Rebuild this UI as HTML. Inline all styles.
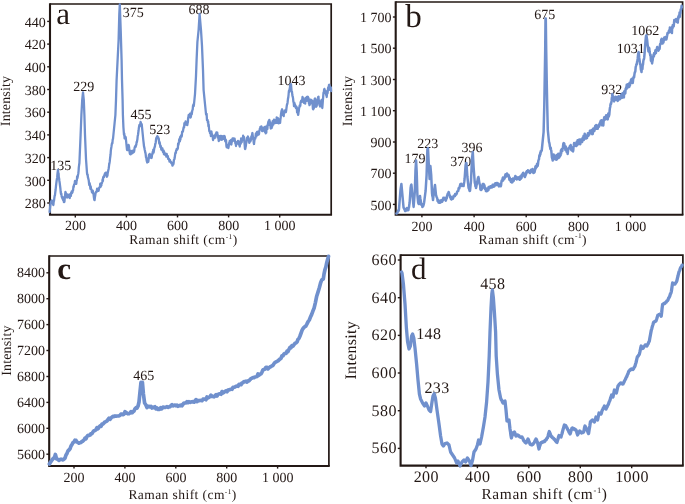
<!DOCTYPE html>
<html><head><meta charset="utf-8"><title>Raman spectra</title>
<style>
html,body{margin:0;padding:0;background:#fff;}
svg{display:block;font-family:"Liberation Serif",serif;fill:#231815;text-rendering:geometricPrecision;will-change:transform;}
</style></head><body>
<svg width="685" height="504" viewBox="0 0 685 504">
<rect width="685" height="504" fill="#fff"/>
<defs>
<clipPath id="ca"><rect x="48" y="2" width="285" height="214"/></clipPath>
<clipPath id="cb"><rect x="394" y="0" width="291" height="216"/></clipPath>
<clipPath id="cc"><rect x="47" y="253" width="284" height="215"/></clipPath>
<clipPath id="cd"><rect x="399" y="253" width="286" height="215"/></clipPath>
</defs>
<path d="M50,4 H331.2 V214.8" fill="none" stroke="#231815" stroke-width="1.7"/>
<path d="M50,3.15 V214.8 H332.05" fill="none" stroke="#231815" stroke-width="2.1" stroke-linejoin="miter"/>
<line x1="75.3" y1="214.8" x2="75.3" y2="217.4" stroke="#231815" stroke-width="1.4"/>
<text x="75.4" y="230.3" font-size="14" text-anchor="middle" letter-spacing="0">200</text>
<line x1="126.4" y1="214.8" x2="126.4" y2="217.4" stroke="#231815" stroke-width="1.4"/>
<text x="126.5" y="230.3" font-size="14" text-anchor="middle" letter-spacing="0">400</text>
<line x1="177.5" y1="214.8" x2="177.5" y2="217.4" stroke="#231815" stroke-width="1.4"/>
<text x="177.6" y="230.3" font-size="14" text-anchor="middle" letter-spacing="0">600</text>
<line x1="228.6" y1="214.8" x2="228.6" y2="217.4" stroke="#231815" stroke-width="1.4"/>
<text x="228.7" y="230.3" font-size="14" text-anchor="middle" letter-spacing="0">800</text>
<line x1="279.7" y1="214.8" x2="279.7" y2="217.4" stroke="#231815" stroke-width="1.4"/>
<text x="279.8" y="230.3" font-size="14" text-anchor="middle" letter-spacing="0">1 000</text>
<line x1="47.2" y1="203.0" x2="50" y2="203.0" stroke="#231815" stroke-width="1.4"/>
<text x="45.8" y="208.2" font-size="14" text-anchor="end" letter-spacing="0">280</text>
<line x1="47.2" y1="180.3" x2="50" y2="180.3" stroke="#231815" stroke-width="1.4"/>
<text x="45.8" y="185.5" font-size="14" text-anchor="end" letter-spacing="0">300</text>
<line x1="47.2" y1="157.6" x2="50" y2="157.6" stroke="#231815" stroke-width="1.4"/>
<text x="45.8" y="162.8" font-size="14" text-anchor="end" letter-spacing="0">320</text>
<line x1="47.2" y1="134.9" x2="50" y2="134.9" stroke="#231815" stroke-width="1.4"/>
<text x="45.8" y="140.1" font-size="14" text-anchor="end" letter-spacing="0">340</text>
<line x1="47.2" y1="112.2" x2="50" y2="112.2" stroke="#231815" stroke-width="1.4"/>
<text x="45.8" y="117.4" font-size="14" text-anchor="end" letter-spacing="0">360</text>
<line x1="47.2" y1="89.5" x2="50" y2="89.5" stroke="#231815" stroke-width="1.4"/>
<text x="45.8" y="94.7" font-size="14" text-anchor="end" letter-spacing="0">380</text>
<line x1="47.2" y1="66.8" x2="50" y2="66.8" stroke="#231815" stroke-width="1.4"/>
<text x="45.8" y="72.0" font-size="14" text-anchor="end" letter-spacing="0">400</text>
<line x1="47.2" y1="44.1" x2="50" y2="44.1" stroke="#231815" stroke-width="1.4"/>
<text x="45.8" y="49.3" font-size="14" text-anchor="end" letter-spacing="0">420</text>
<line x1="47.2" y1="21.4" x2="50" y2="21.4" stroke="#231815" stroke-width="1.4"/>
<text x="45.8" y="26.6" font-size="14" text-anchor="end" letter-spacing="0">440</text>
<text transform="translate(10.1,101) rotate(-90)" font-size="14" text-anchor="middle" letter-spacing="0.15">Intensity</text>
<text x="183.4" y="244.2" font-size="13.5" text-anchor="middle" letter-spacing="0.43">Raman shift (cm<tspan font-size="7.4" dy="-5.7">-1</tspan><tspan dy="5.7">)</tspan></text>
<text x="56.2" y="23.7" font-size="31" font-weight="normal">a</text>
<text x="60.8" y="170.0" font-size="14" text-anchor="middle" letter-spacing="0">135</text>
<text x="83.7" y="91.4" font-size="14" text-anchor="middle" letter-spacing="0">229</text>
<text x="133.2" y="16.8" font-size="14" text-anchor="middle" letter-spacing="0">375</text>
<text x="141.0" y="118.9" font-size="14" text-anchor="middle" letter-spacing="0">455</text>
<text x="159.8" y="134.2" font-size="14" text-anchor="middle" letter-spacing="0">523</text>
<text x="199.1" y="14.1" font-size="14" text-anchor="middle" letter-spacing="0">688</text>
<text x="291.5" y="84.5" font-size="14" text-anchor="middle" letter-spacing="0">1043</text>
<path d="M395.7,2 H682.6 V214.7" fill="none" stroke="#231815" stroke-width="1.7"/>
<path d="M395.7,1.15 V214.7 H683.45" fill="none" stroke="#231815" stroke-width="2.1" stroke-linejoin="miter"/>
<line x1="421.9" y1="214.7" x2="421.9" y2="217.29999999999998" stroke="#231815" stroke-width="1.4"/>
<text x="422.0" y="230.7" font-size="14" text-anchor="middle" letter-spacing="0">200</text>
<line x1="474.1" y1="214.7" x2="474.1" y2="217.29999999999998" stroke="#231815" stroke-width="1.4"/>
<text x="474.2" y="230.7" font-size="14" text-anchor="middle" letter-spacing="0">400</text>
<line x1="526.2" y1="214.7" x2="526.2" y2="217.29999999999998" stroke="#231815" stroke-width="1.4"/>
<text x="526.3" y="230.7" font-size="14" text-anchor="middle" letter-spacing="0">600</text>
<line x1="578.4" y1="214.7" x2="578.4" y2="217.29999999999998" stroke="#231815" stroke-width="1.4"/>
<text x="578.5" y="230.7" font-size="14" text-anchor="middle" letter-spacing="0">800</text>
<line x1="630.5" y1="214.7" x2="630.5" y2="217.29999999999998" stroke="#231815" stroke-width="1.4"/>
<text x="630.6" y="230.7" font-size="14" text-anchor="middle" letter-spacing="0">1 000</text>
<line x1="392.9" y1="204.4" x2="395.7" y2="204.4" stroke="#231815" stroke-width="1.4"/>
<text x="391.5" y="209.5" font-size="14" text-anchor="end" letter-spacing="0">500</text>
<line x1="392.9" y1="173.2" x2="395.7" y2="173.2" stroke="#231815" stroke-width="1.4"/>
<text x="391.5" y="178.2" font-size="14" text-anchor="end" letter-spacing="0">700</text>
<line x1="392.9" y1="142.0" x2="395.7" y2="142.0" stroke="#231815" stroke-width="1.4"/>
<text x="391.5" y="147.0" font-size="14" text-anchor="end" letter-spacing="0">900</text>
<line x1="392.9" y1="110.7" x2="395.7" y2="110.7" stroke="#231815" stroke-width="1.4"/>
<text x="391.5" y="115.8" font-size="14" text-anchor="end" letter-spacing="0">1 100</text>
<line x1="392.9" y1="79.5" x2="395.7" y2="79.5" stroke="#231815" stroke-width="1.4"/>
<text x="391.5" y="84.5" font-size="14" text-anchor="end" letter-spacing="0">1 300</text>
<line x1="392.9" y1="48.2" x2="395.7" y2="48.2" stroke="#231815" stroke-width="1.4"/>
<text x="391.5" y="53.3" font-size="14" text-anchor="end" letter-spacing="0">1 500</text>
<line x1="392.9" y1="17.0" x2="395.7" y2="17.0" stroke="#231815" stroke-width="1.4"/>
<text x="391.5" y="22.0" font-size="14" text-anchor="end" letter-spacing="0">1 700</text>
<text transform="translate(352.1,101) rotate(-90)" font-size="14" text-anchor="middle" letter-spacing="0.15">Intensity</text>
<text x="532.8" y="244.1" font-size="13.5" text-anchor="middle" letter-spacing="0.43">Raman shift (cm<tspan font-size="7.4" dy="-5.7">-1</tspan><tspan dy="5.7">)</tspan></text>
<text x="405.2" y="27.2" font-size="33" font-weight="normal">b</text>
<text x="427.8" y="148.4" font-size="14" text-anchor="middle" letter-spacing="0">223</text>
<text x="415.0" y="163.4" font-size="14" text-anchor="middle" letter-spacing="0">179</text>
<text x="472.0" y="152.4" font-size="14" text-anchor="middle" letter-spacing="0">396</text>
<text x="460.8" y="166.4" font-size="14" text-anchor="middle" letter-spacing="0">370</text>
<text x="544.7" y="19.0" font-size="14" text-anchor="middle" letter-spacing="0">675</text>
<text x="611.8" y="94.0" font-size="14" text-anchor="middle" letter-spacing="0">932</text>
<text x="630.8" y="53.0" font-size="14" text-anchor="middle" letter-spacing="0">1031</text>
<text x="645.3" y="35.4" font-size="14" text-anchor="middle" letter-spacing="0">1062</text>
<path d="M49.2,256 H328.9 V466" fill="none" stroke="#231815" stroke-width="1.7"/>
<path d="M49.2,255.15 V466 H329.75" fill="none" stroke="#231815" stroke-width="2.1" stroke-linejoin="miter"/>
<line x1="74.0" y1="466" x2="74.0" y2="468.6" stroke="#231815" stroke-width="1.4"/>
<text x="74.1" y="482.1" font-size="14" text-anchor="middle" letter-spacing="0">200</text>
<line x1="124.9" y1="466" x2="124.9" y2="468.6" stroke="#231815" stroke-width="1.4"/>
<text x="125.0" y="482.1" font-size="14" text-anchor="middle" letter-spacing="0">400</text>
<line x1="175.8" y1="466" x2="175.8" y2="468.6" stroke="#231815" stroke-width="1.4"/>
<text x="175.9" y="482.1" font-size="14" text-anchor="middle" letter-spacing="0">600</text>
<line x1="226.7" y1="466" x2="226.7" y2="468.6" stroke="#231815" stroke-width="1.4"/>
<text x="226.8" y="482.1" font-size="14" text-anchor="middle" letter-spacing="0">800</text>
<line x1="277.6" y1="466" x2="277.6" y2="468.6" stroke="#231815" stroke-width="1.4"/>
<text x="277.7" y="482.1" font-size="14" text-anchor="middle" letter-spacing="0">1 000</text>
<line x1="46.400000000000006" y1="454.2" x2="49.2" y2="454.2" stroke="#231815" stroke-width="1.4"/>
<text x="45.0" y="458.6" font-size="14" text-anchor="end" letter-spacing="0">5600</text>
<line x1="46.400000000000006" y1="428.3" x2="49.2" y2="428.3" stroke="#231815" stroke-width="1.4"/>
<text x="45.0" y="432.7" font-size="14" text-anchor="end" letter-spacing="0">6000</text>
<line x1="46.400000000000006" y1="402.4" x2="49.2" y2="402.4" stroke="#231815" stroke-width="1.4"/>
<text x="45.0" y="406.8" font-size="14" text-anchor="end" letter-spacing="0">6400</text>
<line x1="46.400000000000006" y1="376.5" x2="49.2" y2="376.5" stroke="#231815" stroke-width="1.4"/>
<text x="45.0" y="380.9" font-size="14" text-anchor="end" letter-spacing="0">6800</text>
<line x1="46.400000000000006" y1="350.5" x2="49.2" y2="350.5" stroke="#231815" stroke-width="1.4"/>
<text x="45.0" y="355.0" font-size="14" text-anchor="end" letter-spacing="0">7200</text>
<line x1="46.400000000000006" y1="324.6" x2="49.2" y2="324.6" stroke="#231815" stroke-width="1.4"/>
<text x="45.0" y="329.1" font-size="14" text-anchor="end" letter-spacing="0">7600</text>
<line x1="46.400000000000006" y1="298.7" x2="49.2" y2="298.7" stroke="#231815" stroke-width="1.4"/>
<text x="45.0" y="303.1" font-size="14" text-anchor="end" letter-spacing="0">8000</text>
<line x1="46.400000000000006" y1="272.8" x2="49.2" y2="272.8" stroke="#231815" stroke-width="1.4"/>
<text x="45.0" y="277.2" font-size="14" text-anchor="end" letter-spacing="0">8400</text>
<text transform="translate(10.7,350.6) rotate(-90)" font-size="14" text-anchor="middle" letter-spacing="0.15">Intensity</text>
<text x="182.6" y="499.4" font-size="13.5" text-anchor="middle" letter-spacing="0.43">Raman shift (cm<tspan font-size="7.4" dy="-5.7">-1</tspan><tspan dy="5.7">)</tspan></text>
<text x="57.3" y="278.7" font-size="31" font-weight="bold">c</text>
<text x="143.7" y="380.0" font-size="14" text-anchor="middle" letter-spacing="0">465</text>
<path d="M400.6,255.2 H682.9 V465.6" fill="none" stroke="#231815" stroke-width="1.7"/>
<path d="M400.6,254.35 V465.6 H683.75" fill="none" stroke="#231815" stroke-width="2.1" stroke-linejoin="miter"/>
<line x1="426.0" y1="465.6" x2="426.0" y2="468.20000000000005" stroke="#231815" stroke-width="1.4"/>
<text x="426.3" y="481.9" font-size="16" text-anchor="middle" letter-spacing="0.4">200</text>
<line x1="477.4" y1="465.6" x2="477.4" y2="468.20000000000005" stroke="#231815" stroke-width="1.4"/>
<text x="477.7" y="481.9" font-size="16" text-anchor="middle" letter-spacing="0.4">400</text>
<line x1="528.8" y1="465.6" x2="528.8" y2="468.20000000000005" stroke="#231815" stroke-width="1.4"/>
<text x="529.1" y="481.9" font-size="16" text-anchor="middle" letter-spacing="0.4">600</text>
<line x1="580.3" y1="465.6" x2="580.3" y2="468.20000000000005" stroke="#231815" stroke-width="1.4"/>
<text x="580.6" y="481.9" font-size="16" text-anchor="middle" letter-spacing="0.4">800</text>
<line x1="631.7" y1="465.6" x2="631.7" y2="468.20000000000005" stroke="#231815" stroke-width="1.4"/>
<text x="632.0" y="481.9" font-size="16" text-anchor="middle" letter-spacing="0.4">1000</text>
<line x1="397.8" y1="448.4" x2="400.6" y2="448.4" stroke="#231815" stroke-width="1.4"/>
<text x="396.8" y="453.4" font-size="16" text-anchor="end" letter-spacing="0.4">560</text>
<line x1="397.8" y1="410.7" x2="400.6" y2="410.7" stroke="#231815" stroke-width="1.4"/>
<text x="396.8" y="415.7" font-size="16" text-anchor="end" letter-spacing="0.4">580</text>
<line x1="397.8" y1="373.0" x2="400.6" y2="373.0" stroke="#231815" stroke-width="1.4"/>
<text x="396.8" y="378.0" font-size="16" text-anchor="end" letter-spacing="0.4">600</text>
<line x1="397.8" y1="335.4" x2="400.6" y2="335.4" stroke="#231815" stroke-width="1.4"/>
<text x="396.8" y="340.4" font-size="16" text-anchor="end" letter-spacing="0.4">620</text>
<line x1="397.8" y1="297.7" x2="400.6" y2="297.7" stroke="#231815" stroke-width="1.4"/>
<text x="396.8" y="302.7" font-size="16" text-anchor="end" letter-spacing="0.4">640</text>
<line x1="397.8" y1="260.0" x2="400.6" y2="260.0" stroke="#231815" stroke-width="1.4"/>
<text x="396.8" y="265.0" font-size="16" text-anchor="end" letter-spacing="0.4">660</text>
<text transform="translate(355.5,350.2) rotate(-90)" font-size="16" text-anchor="middle" letter-spacing="0.3">Intensity</text>
<text x="544.5" y="499.3" font-size="15.4" text-anchor="middle" letter-spacing="0.63">Raman shift (cm<tspan font-size="8.5" dy="-6.5">-1</tspan><tspan dy="6.5">)</tspan></text>
<text x="411" y="279.4" font-size="31" font-weight="normal">d</text>
<text x="492.8" y="288.8" font-size="16" text-anchor="middle" letter-spacing="0.4">458</text>
<text x="428.8" y="339.4" font-size="16" text-anchor="middle" letter-spacing="0.4">148</text>
<text x="437.0" y="392.8" font-size="16" text-anchor="middle" letter-spacing="0.4">233</text>
<path d="M49.6,212.0 L50.6,203.0 L50.9,202.0 L51.2,201.1 L51.4,203.1 L51.7,200.3 L52.0,202.0 L52.3,202.8 L52.6,202.6 L52.8,201.9 L53.1,204.4 L53.4,205.0 L53.7,201.6 L54.0,200.8 L54.4,197.7 L54.7,195.7 L55.0,195.0 L55.3,192.1 L55.6,190.0 L56.0,185.9 L56.3,183.3 L56.6,181.0 L56.9,179.0 L57.2,177.4 L57.4,174.5 L57.7,172.0 L58.0,170.0 L58.3,173.0 L58.6,173.6 L58.8,177.2 L59.1,178.4 L59.4,181.0 L59.7,183.0 L60.0,185.5 L60.4,188.5 L60.7,192.0 L61.0,194.0 L61.3,193.5 L61.6,196.1 L61.9,197.2 L62.1,196.9 L62.4,198.5 L62.7,197.2 L63.0,200.0 L63.3,198.5 L63.6,199.5 L63.8,202.0 L64.1,201.3 L64.4,202.0 L65.4,192.0 L65.7,192.4 L66.0,194.9 L66.3,195.5 L66.6,197.0 L66.9,195.7 L67.2,197.5 L67.4,196.7 L67.7,194.3 L68.0,195.0 L68.3,195.5 L68.6,195.4 L68.9,197.1 L69.1,196.6 L69.4,194.8 L69.7,198.0 L70.0,196.0 L70.3,193.9 L70.6,194.8 L70.9,195.8 L71.1,192.8 L71.4,193.8 L71.7,191.4 L72.0,193.0 L72.3,192.6 L72.6,191.9 L72.9,189.9 L73.1,190.1 L73.4,186.5 L73.7,187.0 L74.0,185.0 L74.3,184.1 L74.7,182.7 L75.0,181.0 L75.3,181.5 L75.7,183.8 L76.0,183.0 L76.3,183.8 L76.6,180.6 L76.9,180.3 L77.1,176.5 L77.4,178.2 L77.7,176.8 L78.0,175.0 L78.3,173.5 L78.6,170.8 L78.8,167.4 L79.1,165.2 L79.4,163.0 L80.6,135.0 L81.4,115.0 L82.2,100.0 L83.0,92.4 L83.8,100.0 L84.4,115.0 L85.0,135.0 L86.0,159.0 L87.0,173.0 L87.3,174.9 L87.6,174.4 L87.9,177.2 L88.1,177.7 L88.4,179.0 L88.7,180.2 L89.0,183.0 L89.3,185.0 L89.6,183.1 L89.9,184.5 L90.1,185.9 L90.4,188.9 L90.7,186.3 L91.0,189.0 L91.3,189.2 L91.6,190.1 L91.9,192.0 L92.1,192.1 L92.4,192.7 L92.7,190.6 L93.0,192.0 L93.3,193.3 L93.6,194.8 L94.0,198.0 L94.3,199.8 L94.6,200.0 L94.9,197.3 L95.2,195.8 L95.4,194.4 L95.7,192.8 L96.0,192.0 L96.3,191.6 L96.6,191.8 L96.9,190.1 L97.1,188.7 L97.4,190.2 L97.7,189.7 L98.0,190.0 L98.3,189.7 L98.6,190.9 L98.9,189.1 L99.1,187.8 L99.4,187.7 L99.7,187.3 L100.0,186.0 L100.3,183.6 L100.6,186.9 L100.9,185.9 L101.1,185.9 L101.4,185.2 L101.7,183.0 L102.0,183.0 L102.3,181.7 L102.6,179.5 L102.9,181.0 L103.1,177.6 L103.4,176.8 L103.7,176.6 L104.0,177.0 L104.3,175.1 L104.6,175.4 L104.9,173.7 L105.1,173.1 L105.4,173.3 L105.7,172.7 L106.0,174.0 L106.3,173.8 L106.6,172.7 L106.8,176.8 L107.1,176.1 L107.4,176.0 L107.7,173.2 L108.0,171.7 L108.3,170.3 L108.6,169.0 L108.9,166.8 L109.2,164.3 L109.4,163.6 L109.7,161.9 L110.0,159.0 L110.3,156.5 L110.6,154.2 L110.8,151.1 L111.1,148.7 L111.4,147.0 L111.7,144.9 L112.0,143.1 L112.4,143.2 L112.7,139.6 L113.0,139.0 L114.6,123.0 L115.4,115.0 L116.0,100.0 L116.6,80.0 L118.6,40.0 L119.3,14.0 L119.8,4.3 L120.7,30.0 L121.6,60.0 L122.0,80.0 L122.6,100.0 L122.9,115.0 L123.4,127.0 L124.0,135.0 L124.3,133.6 L124.6,138.4 L124.9,137.3 L125.1,136.3 L125.4,138.8 L125.7,137.2 L126.0,140.0 L127.0,150.0 L127.3,149.1 L127.6,150.1 L128.0,148.6 L128.3,146.9 L128.6,145.0 L128.9,146.1 L129.2,148.2 L129.4,149.4 L129.7,153.0 L130.0,154.0 L130.3,153.7 L130.6,154.4 L130.9,152.0 L131.1,151.1 L131.4,153.2 L131.7,153.6 L132.0,151.0 L132.3,152.7 L132.6,152.6 L132.9,152.8 L133.1,152.6 L133.4,150.5 L133.7,151.9 L134.0,152.0 L134.3,150.4 L134.6,147.9 L134.9,146.9 L135.1,147.0 L135.4,145.9 L135.7,146.8 L136.0,145.0 L136.3,145.0 L136.6,142.0 L136.9,142.1 L137.1,140.8 L137.4,139.3 L137.7,136.0 L138.0,135.0 L138.3,132.5 L138.6,130.5 L138.8,128.5 L139.1,126.5 L139.4,125.0 L139.7,124.8 L140.0,125.3 L140.3,124.2 L140.6,122.0 L140.9,122.9 L141.2,124.7 L141.4,126.3 L141.7,124.2 L142.0,127.0 L143.4,141.0 L143.7,143.5 L144.0,146.3 L144.4,147.9 L144.7,149.8 L145.0,151.0 L145.3,152.7 L145.6,153.6 L146.0,157.3 L146.3,157.7 L146.6,160.0 L146.9,161.5 L147.2,162.5 L147.4,160.1 L147.7,160.4 L148.0,161.0 L148.3,161.8 L148.6,159.6 L148.8,155.9 L149.1,154.6 L149.4,155.0 L149.7,153.9 L150.0,157.6 L150.4,157.5 L150.7,155.0 L151.0,157.0 L151.3,157.9 L151.6,158.0 L151.9,156.0 L152.1,154.1 L152.4,154.4 L152.7,151.9 L153.0,153.0 L153.3,149.7 L153.6,152.7 L154.0,150.1 L154.3,148.3 L154.6,147.0 L154.9,146.9 L155.2,144.0 L155.4,143.9 L155.7,142.4 L156.0,140.0 L156.3,138.0 L156.6,137.5 L157.0,137.0 L157.3,136.1 L157.6,136.5 L157.9,137.8 L158.2,137.2 L158.4,138.8 L158.7,138.5 L159.0,141.0 L159.3,143.7 L159.6,142.1 L159.9,143.4 L160.1,144.8 L160.4,147.1 L160.7,145.8 L161.0,147.0 L161.3,149.6 L161.6,148.4 L161.9,149.3 L162.1,150.0 L162.4,148.5 L162.7,151.0 L163.0,152.0 L163.3,150.9 L163.6,150.4 L163.9,154.2 L164.1,151.7 L164.4,153.3 L164.7,154.7 L165.0,154.0 L165.3,154.5 L165.6,153.8 L165.9,154.9 L166.1,155.4 L166.4,156.7 L166.7,154.0 L167.0,156.0 L167.3,156.7 L167.6,155.8 L167.9,156.3 L168.1,158.9 L168.4,158.2 L168.7,158.8 L169.0,159.0 L169.3,160.6 L169.6,161.7 L169.9,160.0 L170.1,161.2 L170.4,161.2 L170.7,161.6 L171.0,162.0 L171.3,163.2 L171.6,162.5 L171.9,163.2 L172.1,163.3 L172.4,165.7 L172.7,165.0 L173.0,164.5 L173.3,164.4 L173.6,163.3 L173.9,159.9 L174.1,159.5 L174.4,159.4 L174.7,157.8 L175.0,155.5 L175.3,153.1 L175.6,152.3 L175.9,152.9 L176.1,150.5 L176.4,150.4 L176.7,148.9 L177.0,150.0 L177.3,149.5 L177.6,148.8 L177.9,148.1 L178.1,143.6 L178.4,144.9 L178.7,143.4 L179.0,141.5 L179.3,139.1 L179.6,141.6 L179.9,141.2 L180.1,137.1 L180.4,139.6 L180.7,136.3 L181.0,136.0 L181.3,135.2 L181.6,136.7 L181.9,135.3 L182.1,131.7 L182.4,132.1 L182.7,131.8 L183.0,131.0 L183.3,129.1 L183.6,127.4 L183.9,126.8 L184.1,127.4 L184.4,123.2 L184.7,124.4 L185.0,123.0 L185.3,123.0 L185.6,121.5 L185.9,123.1 L186.1,124.7 L186.4,124.5 L186.7,122.8 L187.0,125.0 L187.3,125.1 L187.6,123.0 L187.9,122.2 L188.1,118.1 L188.4,117.1 L188.7,115.0 L189.0,115.0 L189.3,116.4 L189.6,114.3 L189.9,113.8 L190.1,115.2 L190.4,117.5 L190.7,117.3 L191.0,116.0 L191.3,113.7 L191.6,112.1 L191.8,114.2 L192.1,111.5 L192.4,110.0 L192.7,109.7 L193.0,105.8 L193.4,104.5 L193.7,106.0 L194.0,104.0 L195.0,94.0 L196.0,76.0 L196.6,60.0 L197.4,42.0 L198.6,30.0 L199.6,14.0 L201.0,30.0 L202.0,46.0 L203.0,70.0 L203.6,90.0 L205.0,104.0 L206.0,114.0 L206.3,114.8 L206.6,113.8 L207.0,120.2 L207.3,119.6 L207.6,120.0 L207.9,122.9 L208.2,121.5 L208.4,126.3 L208.7,124.6 L209.0,128.0 L209.3,131.2 L209.7,131.1 L210.0,133.0 L210.3,132.2 L210.6,133.6 L210.9,136.0 L211.1,132.2 L211.4,131.5 L211.7,134.0 L212.0,134.0 L212.3,134.9 L212.7,136.4 L213.0,140.0 L213.3,137.4 L213.6,136.2 L213.9,136.5 L214.1,136.6 L214.4,136.0 L214.7,138.1 L215.0,136.0 L215.3,134.6 L215.6,135.7 L215.9,133.6 L216.1,134.5 L216.4,132.4 L216.7,133.6 L217.0,135.0 L217.3,132.7 L217.6,137.5 L217.9,137.0 L218.1,135.4 L218.4,137.7 L218.7,141.0 L219.0,139.0 L219.3,136.2 L219.6,140.1 L219.9,137.3 L220.1,137.3 L220.4,138.9 L220.7,135.8 L221.0,136.0 L221.3,136.3 L221.6,137.7 L221.9,139.8 L222.1,136.2 L222.4,139.4 L222.7,139.0 L223.0,138.0 L223.3,139.0 L223.6,137.7 L223.9,137.5 L224.1,135.9 L224.4,136.5 L224.7,136.3 L225.0,139.0 L225.3,141.4 L225.6,139.5 L225.9,140.0 L226.1,140.5 L226.4,146.0 L226.7,147.2 L227.0,146.0 L227.3,147.4 L227.6,145.5 L227.8,145.7 L228.1,146.4 L228.4,148.0 L228.7,146.4 L229.0,143.1 L229.4,143.5 L229.7,141.0 L230.0,141.0 L230.3,143.9 L230.6,144.1 L230.9,141.7 L231.1,140.0 L231.4,144.5 L231.7,140.7 L232.0,142.0 L232.3,140.9 L232.6,138.4 L232.9,140.4 L233.1,140.7 L233.4,140.6 L233.7,138.5 L234.0,140.0 L234.3,140.9 L234.6,138.7 L234.9,141.2 L235.1,141.0 L235.4,143.7 L235.7,142.4 L236.0,146.0 L236.3,142.4 L236.6,143.4 L236.9,142.3 L237.1,143.7 L237.4,142.6 L237.7,143.2 L238.0,141.0 L238.3,142.4 L238.6,143.2 L238.9,144.6 L239.1,142.1 L239.4,142.1 L239.7,146.5 L240.0,144.0 L240.3,141.2 L240.6,143.9 L240.9,142.7 L241.1,138.4 L241.4,142.4 L241.7,142.1 L242.0,139.0 L242.3,139.5 L242.6,139.8 L242.9,140.0 L243.1,135.7 L243.4,137.7 L243.7,137.3 L244.0,137.0 L245.0,149.0 L245.3,148.8 L245.6,147.1 L245.9,145.7 L246.1,143.1 L246.4,142.8 L246.7,140.3 L247.0,138.0 L247.3,139.6 L247.6,137.2 L247.9,136.5 L248.1,137.5 L248.4,139.3 L248.7,138.2 L249.0,141.0 L249.3,142.9 L249.6,141.1 L249.9,141.3 L250.1,141.2 L250.4,141.4 L250.7,140.1 L251.0,140.0 L251.3,136.5 L251.6,138.5 L251.8,136.8 L252.1,134.4 L252.4,133.0 L252.7,135.3 L253.0,138.1 L253.4,137.8 L253.7,142.8 L254.0,144.0 L254.3,141.4 L254.6,139.0 L255.0,138.2 L255.3,138.6 L255.6,136.0 L255.9,133.4 L256.2,135.8 L256.4,136.5 L256.7,132.8 L257.0,132.0 L257.3,131.6 L257.6,132.4 L257.9,134.0 L258.1,134.7 L258.4,134.1 L258.7,134.6 L259.0,134.0 L259.3,130.8 L259.6,129.7 L259.8,128.8 L260.1,129.4 L260.4,127.0 L260.7,126.6 L261.0,129.0 L261.4,126.5 L261.7,127.6 L262.0,131.0 L262.3,129.2 L262.6,131.2 L262.9,130.9 L263.1,130.3 L263.4,127.6 L263.7,128.5 L264.0,128.0 L264.3,128.2 L264.6,128.7 L264.9,127.0 L265.1,132.1 L265.4,128.3 L265.7,133.4 L266.0,131.0 L266.3,132.6 L266.6,126.1 L266.9,127.8 L267.1,128.9 L267.4,128.8 L267.7,124.7 L268.0,124.0 L268.3,122.0 L268.6,121.1 L269.0,124.9 L269.3,119.9 L269.6,121.0 L269.9,122.7 L270.2,122.3 L270.4,125.3 L270.7,128.5 L271.0,128.0 L271.3,124.9 L271.6,128.2 L271.9,125.5 L272.1,126.9 L272.4,124.9 L272.7,121.2 L273.0,122.0 L273.3,124.5 L273.6,122.2 L273.9,119.6 L274.1,119.6 L274.4,122.7 L274.7,122.6 L275.0,123.0 L275.3,121.4 L275.6,120.0 L275.9,120.8 L276.1,120.2 L276.4,122.9 L276.7,117.4 L277.0,120.0 L277.3,121.6 L277.6,122.3 L277.9,118.1 L278.1,123.1 L278.4,122.0 L278.7,123.3 L279.0,121.0 L279.3,119.4 L279.6,119.6 L279.8,119.5 L280.1,122.8 L280.4,119.5 L280.7,117.6 L280.9,114.9 L281.2,113.0 L281.5,111.0 L281.8,110.1 L282.1,109.3 L282.4,110.1 L282.8,114.9 L283.1,112.1 L283.4,113.9 L283.7,116.2 L284.0,111.8 L284.3,111.6 L284.7,112.7 L285.0,110.5 L285.3,111.3 L285.6,111.7 L285.9,112.1 L286.2,110.4 L286.4,108.6 L286.7,106.3 L287.0,104.3 L287.3,104.1 L287.6,102.2 L288.0,98.6 L288.3,97.4 L288.6,94.5 L288.9,90.9 L289.2,92.1 L289.5,89.3 L289.7,88.9 L290.0,86.8 L290.3,84.5 L290.6,84.4 L291.0,84.1 L291.3,88.0 L291.6,91.4 L292.0,91.8 L292.3,95.0 L292.6,96.4 L292.9,97.3 L293.1,98.7 L293.4,102.0 L293.7,102.5 L294.0,106.1 L294.3,102.6 L294.6,105.8 L295.0,104.4 L295.3,106.8 L295.6,106.6 L295.9,108.0 L296.2,106.5 L296.5,106.9 L296.8,107.7 L297.1,112.4 L297.3,110.4 L297.6,109.3 L297.9,113.9 L298.2,114.9 L298.5,112.4 L298.8,111.0 L299.1,108.0 L299.4,107.3 L299.7,105.5 L300.0,106.0 L300.3,105.8 L300.6,102.1 L300.9,101.7 L301.2,100.6 L301.6,101.2 L301.9,101.8 L302.2,99.8 L302.5,97.0 L302.8,97.7 L303.1,98.8 L303.3,100.7 L303.6,101.0 L303.9,102.9 L304.2,101.4 L304.5,99.2 L304.8,100.0 L305.2,103.6 L305.5,98.0 L305.8,99.7 L306.1,99.2 L306.4,99.8 L306.7,100.9 L307.0,96.9 L307.4,97.0 L307.7,96.6 L308.0,97.3 L308.3,97.7 L308.6,98.7 L308.9,103.1 L309.2,103.8 L309.5,105.2 L309.8,104.3 L310.1,100.6 L310.4,99.7 L310.7,102.9 L311.0,103.2 L311.3,99.9 L311.6,101.0 L311.9,102.9 L312.2,100.7 L312.6,104.3 L312.9,108.7 L313.2,109.4 L313.5,108.7 L313.8,108.2 L314.1,106.6 L314.4,101.5 L314.7,98.9 L315.0,98.5 L315.3,98.6 L315.6,101.8 L315.8,104.1 L316.1,106.8 L316.4,106.5 L316.7,105.8 L317.0,104.0 L317.3,102.9 L317.6,100.0 L317.9,98.8 L318.2,97.0 L318.5,96.6 L318.8,101.4 L319.1,100.6 L319.5,105.1 L319.8,105.5 L320.1,106.5 L320.4,104.0 L320.7,101.6 L321.0,101.1 L321.3,102.0 L321.6,99.9 L322.3,108.0 L323.5,92.6 L323.8,93.4 L324.1,89.5 L324.4,88.9 L324.6,91.3 L324.9,91.3 L325.2,90.4 L325.5,91.0 L325.8,91.4 L326.1,95.0 L326.4,92.7 L326.7,97.0 L327.0,94.2 L327.3,93.0 L327.6,93.2 L327.9,89.9 L328.2,87.4 L328.5,89.4 L328.8,86.7 L329.0,85.0 L329.3,84.8 L329.6,86.0 L329.9,89.8 L330.2,89.3 L330.5,87.9 L330.8,87.2 L331.1,91.1" fill="none" stroke="#7090cd" stroke-width="2.3" stroke-linejoin="round" stroke-linecap="round" clip-path="url(#ca)"/>
<path d="M396.5,213.5 L396.8,213.2 L397.2,213.3 L397.5,212.5 L397.8,211.6 L398.1,210.5 L398.4,210.8 L398.7,210.7 L399.0,209.0 L400.4,191.0 L400.7,188.4 L401.1,185.9 L401.4,184.0 L402.4,195.0 L403.6,208.0 L403.9,208.0 L404.2,208.7 L404.5,209.7 L404.7,209.0 L405.0,210.9 L405.3,211.1 L405.6,211.0 L405.9,210.4 L406.2,209.1 L406.4,210.3 L406.7,208.1 L407.0,208.0 L407.3,209.2 L407.6,208.2 L407.8,208.5 L408.1,210.2 L408.4,210.0 L408.7,207.9 L409.0,207.3 L409.3,204.7 L409.6,203.0 L410.6,188.0 L410.9,186.1 L411.1,185.1 L411.4,184.6 L412.4,195.0 L413.6,207.0 L414.8,192.0 L415.5,170.0 L416.1,160.6 L416.7,172.0 L417.4,195.0 L418.2,203.0 L418.5,203.1 L418.7,204.1 L419.0,204.0 L419.3,201.8 L419.7,198.3 L420.0,196.0 L420.3,198.2 L420.7,200.4 L421.0,203.0 L421.3,204.9 L421.6,203.7 L421.8,204.3 L422.1,205.1 L422.4,207.0 L422.7,205.9 L423.0,206.4 L423.4,205.5 L423.7,204.4 L424.0,203.0 L424.3,201.1 L424.6,198.6 L425.0,195.6 L425.3,193.1 L425.6,191.0 L426.6,175.0 L427.4,149.0 L427.7,149.5 L428.0,148.0 L428.8,165.0 L429.6,179.0 L430.4,166.0 L431.2,175.0 L432.0,193.0 L432.3,195.6 L432.7,197.2 L433.0,200.0 L434.0,191.0 L434.3,189.3 L434.7,186.8 L435.0,185.0 L436.0,195.0 L436.3,195.9 L436.6,197.0 L437.0,197.8 L437.3,198.6 L437.6,201.0 L437.9,200.6 L438.2,200.9 L438.5,202.5 L438.8,200.6 L439.1,202.7 L439.4,201.0 L439.7,201.5 L440.0,202.0 L440.3,202.6 L440.6,202.5 L440.9,201.4 L441.1,200.3 L441.4,201.2 L441.7,200.8 L442.0,201.0 L442.3,201.6 L442.6,199.4 L442.9,199.4 L443.1,200.2 L443.4,197.7 L443.7,198.2 L444.0,198.0 L444.3,199.0 L444.6,199.2 L444.9,197.8 L445.1,198.0 L445.4,198.4 L445.7,200.7 L446.0,200.0 L446.3,198.4 L446.6,198.6 L446.8,198.0 L447.1,195.6 L447.4,195.0 L447.7,193.7 L448.0,194.6 L448.3,193.0 L448.6,192.0 L448.9,192.4 L449.2,194.5 L449.4,194.6 L449.7,195.5 L450.0,197.0 L450.3,196.1 L450.6,198.2 L450.9,198.9 L451.1,198.5 L451.4,199.5 L451.7,197.6 L452.0,199.0 L452.3,197.9 L452.6,198.1 L452.9,198.8 L453.1,198.4 L453.4,196.6 L453.7,195.8 L454.0,196.0 L454.3,195.5 L454.6,195.4 L454.9,196.2 L455.1,194.1 L455.4,195.3 L455.7,194.9 L456.0,194.0 L456.3,194.3 L456.6,193.8 L456.9,193.0 L457.1,191.9 L457.4,191.4 L457.7,191.1 L458.0,191.0 L458.3,190.9 L458.6,188.4 L459.0,187.9 L459.3,188.4 L459.6,187.0 L459.9,185.8 L460.2,184.8 L460.4,184.1 L460.7,184.7 L461.0,184.0 L461.3,183.8 L461.6,185.6 L461.8,185.5 L462.1,186.0 L462.4,185.0 L462.7,184.7 L463.0,184.5 L463.3,184.8 L463.6,186.0 L463.9,183.7 L464.3,181.5 L464.6,179.0 L465.6,165.0 L465.9,164.2 L466.1,163.0 L466.4,163.0 L467.4,177.0 L468.6,188.0 L468.9,188.4 L469.2,189.5 L469.4,190.2 L469.7,191.0 L470.0,191.0 L471.0,181.0 L472.0,158.0 L472.3,156.3 L472.5,154.2 L472.8,152.0 L473.6,167.0 L474.8,183.0 L475.1,183.3 L475.4,186.3 L475.7,186.3 L476.0,188.0 L476.3,186.7 L476.6,185.0 L476.8,184.2 L477.1,181.9 L477.4,181.0 L477.7,179.1 L478.1,177.7 L478.4,177.0 L478.7,178.2 L479.0,181.1 L479.3,182.4 L479.6,184.0 L479.9,184.6 L480.2,186.0 L480.4,189.4 L480.7,188.8 L481.0,190.0 L481.3,188.2 L481.6,189.5 L481.8,188.2 L482.1,188.6 L482.4,186.0 L482.7,184.1 L483.0,184.9 L483.3,185.6 L483.6,184.0 L483.9,186.2 L484.2,187.5 L484.4,185.3 L484.7,187.3 L485.0,189.0 L485.3,187.8 L485.6,188.2 L485.9,191.1 L486.1,189.9 L486.4,191.3 L486.7,189.4 L487.0,190.0 L487.3,191.0 L487.6,189.2 L487.9,188.3 L488.1,189.9 L488.4,190.2 L488.7,186.9 L489.0,188.0 L489.3,188.2 L489.6,188.2 L489.9,186.7 L490.2,187.1 L490.5,186.2 L490.8,186.3 L491.1,186.4 L491.4,187.6 L491.7,187.6 L492.0,187.0 L492.3,185.7 L492.6,184.8 L492.9,185.8 L493.2,186.8 L493.5,184.9 L493.8,185.1 L494.1,184.5 L494.4,186.5 L494.7,185.4 L495.0,185.0 L495.3,183.3 L495.6,183.4 L495.9,184.3 L496.2,184.8 L496.5,185.0 L496.8,182.9 L497.1,183.1 L497.4,184.9 L497.7,183.8 L498.0,184.0 L498.3,183.5 L498.6,183.8 L498.9,186.4 L499.2,184.3 L499.5,185.5 L499.8,185.0 L500.1,185.4 L500.4,186.0 L500.7,186.2 L501.0,185.6 L501.4,182.2 L501.7,180.5 L502.0,180.5 L502.3,181.0 L502.6,178.7 L502.9,177.6 L503.1,180.5 L503.4,178.4 L503.7,179.5 L504.0,178.0 L504.3,177.3 L504.6,178.6 L504.9,176.7 L505.2,175.3 L505.5,174.4 L505.8,175.9 L506.1,175.9 L506.4,175.0 L506.7,176.5 L507.0,173.5 L507.4,175.4 L507.7,174.5 L508.0,175.0 L508.3,175.7 L508.6,175.0 L508.9,176.1 L509.1,177.6 L509.4,179.7 L509.7,177.4 L510.0,179.5 L510.3,179.7 L510.6,181.0 L510.9,181.8 L511.1,179.3 L511.4,179.2 L511.7,182.4 L512.0,181.0 L512.3,182.4 L512.6,180.4 L512.9,178.5 L513.1,181.4 L513.4,179.2 L513.7,180.7 L514.0,179.0 L514.3,178.8 L514.7,178.8 L515.0,177.0 L515.3,176.0 L515.6,178.4 L515.9,176.6 L516.2,177.5 L516.5,179.2 L516.8,179.4 L517.1,177.3 L517.4,177.6 L517.7,178.4 L518.0,179.0 L518.3,179.0 L518.6,178.4 L518.9,177.3 L519.2,177.7 L519.5,179.3 L519.8,179.8 L520.1,176.6 L520.4,178.4 L520.7,179.0 L521.0,178.0 L521.3,175.6 L521.6,177.8 L521.9,174.5 L522.1,175.5 L522.4,174.6 L522.7,174.2 L523.0,173.0 L523.3,172.9 L523.6,173.9 L523.9,175.0 L524.1,175.0 L524.4,176.4 L524.7,176.2 L525.0,177.0 L525.3,175.9 L525.6,173.6 L525.9,174.9 L526.1,173.5 L526.4,171.8 L526.7,172.8 L527.0,171.0 L527.3,172.2 L527.6,171.2 L527.9,170.4 L528.2,171.7 L528.5,170.6 L528.8,170.9 L529.1,172.2 L529.4,171.1 L529.7,172.6 L530.0,173.0 L530.3,172.6 L530.6,170.5 L530.9,172.2 L531.1,169.8 L531.4,171.7 L531.7,171.4 L532.0,170.0 L532.3,170.3 L532.6,169.0 L532.9,170.9 L533.1,170.7 L533.4,173.1 L533.7,170.4 L534.0,172.0 L534.3,172.4 L534.6,172.1 L534.9,170.3 L535.1,169.7 L535.4,166.6 L535.7,168.6 L536.0,166.0 L536.3,165.7 L536.6,167.1 L536.9,166.6 L537.1,163.7 L537.4,165.6 L537.7,165.8 L538.0,164.0 L538.3,161.1 L538.6,160.0 L539.0,159.2 L539.3,155.9 L539.6,155.0 L539.9,155.8 L540.2,153.0 L540.4,154.3 L540.7,151.3 L541.0,152.0 L541.3,150.7 L541.7,150.8 L542.0,148.0 L543.6,132.0 L544.3,105.0 L544.7,80.0 L545.2,50.0 L545.5,18.6 L545.8,18.6 L546.2,50.0 L546.7,80.0 L547.2,105.0 L547.8,130.0 L549.0,142.0 L549.3,142.7 L549.6,144.2 L549.8,146.2 L550.1,147.1 L550.4,149.0 L550.7,147.7 L551.0,149.7 L551.3,150.9 L551.6,154.0 L551.9,157.4 L552.1,158.0 L552.4,159.0 L552.7,160.6 L553.0,155.9 L553.4,158.8 L553.7,154.4 L554.0,156.0 L554.3,156.5 L554.6,157.3 L554.9,156.1 L555.1,159.2 L555.4,157.7 L555.7,158.2 L556.0,158.0 L556.3,159.7 L556.6,154.9 L556.9,159.5 L557.1,157.0 L557.4,155.3 L557.7,157.1 L558.0,155.0 L558.3,153.8 L558.6,158.0 L558.9,155.9 L559.1,154.8 L559.4,157.2 L559.7,155.5 L560.0,156.0 L560.3,153.2 L560.6,155.4 L560.9,150.5 L561.1,153.8 L561.4,149.6 L561.7,150.8 L562.0,149.0 L562.3,151.1 L562.6,148.3 L562.9,148.2 L563.1,145.7 L563.4,143.4 L563.7,143.0 L564.0,145.0 L564.3,143.6 L564.6,146.8 L564.9,146.3 L565.1,147.4 L565.4,150.1 L565.7,146.4 L566.0,149.0 L566.3,148.5 L566.6,151.9 L567.0,149.3 L567.3,150.2 L567.6,154.0 L567.9,152.0 L568.2,149.4 L568.4,149.6 L568.7,147.7 L569.0,148.0 L569.3,148.3 L569.6,148.2 L569.9,145.9 L570.1,148.1 L570.4,147.1 L570.7,145.1 L571.0,147.0 L571.3,150.2 L571.6,147.2 L571.8,147.4 L572.1,147.9 L572.4,151.0 L572.7,150.9 L573.0,151.4 L573.3,150.0 L573.5,147.0 L573.8,145.4 L574.1,143.1 L574.4,145.0 L574.7,145.6 L575.0,144.9 L575.3,143.5 L575.6,144.9 L575.8,143.6 L576.1,146.1 L576.4,144.8 L576.7,141.8 L577.0,143.0 L577.3,145.2 L577.6,140.2 L577.9,142.9 L578.2,142.1 L578.5,141.0 L578.8,139.9 L579.1,143.9 L579.4,139.5 L579.7,142.4 L580.0,142.0 L580.3,144.2 L580.6,139.5 L580.9,139.6 L581.2,141.6 L581.5,140.8 L581.8,141.3 L582.1,142.0 L582.4,140.0 L582.7,137.7 L583.0,138.0 L583.3,137.5 L583.6,135.7 L583.8,140.0 L584.1,138.9 L584.4,138.1 L584.7,133.7 L585.0,136.0 L585.3,138.2 L585.6,137.9 L585.9,136.7 L586.1,138.5 L586.4,137.2 L586.7,136.2 L587.0,138.0 L587.3,135.1 L587.6,135.1 L587.9,133.3 L588.1,134.2 L588.4,135.8 L588.7,134.8 L589.0,133.0 L589.3,134.6 L589.6,133.6 L589.9,130.8 L590.1,132.2 L590.4,131.2 L590.7,132.9 L591.0,131.0 L591.3,131.3 L591.6,130.0 L591.9,132.2 L592.1,134.2 L592.4,130.1 L592.7,134.0 L593.0,132.0 L593.3,128.6 L593.6,129.2 L593.9,128.4 L594.1,130.5 L594.4,130.9 L594.7,129.1 L595.0,127.0 L595.3,125.9 L595.6,128.9 L595.9,125.7 L596.2,125.1 L596.5,128.8 L596.8,127.1 L597.1,127.4 L597.4,127.1 L597.7,128.8 L598.0,126.0 L598.3,125.4 L598.6,127.1 L598.9,125.9 L599.2,126.4 L599.5,123.6 L599.8,124.9 L600.1,123.6 L600.4,121.7 L600.7,120.8 L601.0,122.0 L601.3,123.0 L601.6,120.2 L601.9,125.2 L602.1,121.2 L602.4,120.8 L602.7,121.5 L603.0,124.0 L603.3,125.5 L603.6,121.4 L603.9,119.4 L604.1,117.9 L604.4,117.1 L604.7,119.9 L605.0,118.0 L605.3,118.6 L605.6,118.9 L605.9,119.0 L606.2,115.2 L606.5,118.0 L606.8,116.6 L607.1,119.1 L607.4,119.0 L607.7,119.3 L608.0,117.0 L608.3,113.4 L608.6,116.7 L609.0,115.7 L609.3,114.7 L609.6,111.0 L609.9,108.1 L610.2,107.0 L610.4,105.3 L610.7,103.6 L611.0,104.0 L611.3,102.8 L611.6,100.7 L611.8,98.3 L612.1,96.7 L612.4,94.0 L612.7,96.0 L613.0,96.2 L613.2,96.9 L613.5,100.0 L613.8,97.7 L614.1,101.4 L614.4,98.3 L614.7,99.0 L615.0,100.0 L615.3,99.3 L615.6,96.7 L615.9,97.8 L616.1,97.6 L616.4,99.8 L616.7,97.5 L617.0,98.0 L617.3,97.1 L617.6,100.9 L617.9,98.4 L618.1,100.5 L618.4,99.4 L618.7,96.2 L619.0,99.0 L619.3,98.1 L619.6,97.8 L619.9,99.2 L620.1,96.4 L620.4,98.0 L620.7,96.6 L621.0,96.0 L621.3,94.4 L621.6,98.0 L621.9,93.7 L622.1,97.8 L622.4,94.2 L622.7,93.2 L623.0,96.0 L623.3,93.9 L623.6,96.6 L623.9,97.4 L624.1,91.5 L624.4,93.8 L624.7,93.4 L625.0,93.0 L625.3,93.5 L625.6,88.9 L625.9,89.5 L626.1,87.6 L626.4,89.1 L626.7,84.8 L627.0,85.0 L627.3,87.8 L627.6,84.4 L627.9,84.3 L628.1,87.3 L628.4,86.4 L628.7,84.5 L629.0,87.0 L629.3,86.8 L629.6,82.7 L629.9,85.6 L630.1,84.1 L630.4,83.6 L630.7,81.7 L631.0,80.0 L631.3,79.3 L631.6,79.7 L631.9,79.8 L632.1,82.8 L632.4,78.4 L632.7,83.0 L633.0,81.0 L633.3,77.9 L633.6,77.3 L633.9,76.2 L634.1,77.4 L634.4,74.6 L634.7,72.8 L635.0,72.0 L635.3,71.5 L635.7,67.0 L636.0,66.0 L636.3,64.7 L636.5,64.0 L636.8,64.2 L637.1,61.7 L637.4,60.8 L637.7,58.4 L638.0,55.3 L638.3,53.3 L638.6,52.1 L638.9,53.7 L639.2,57.7 L639.5,59.7 L639.8,61.7 L640.1,64.4 L640.4,63.8 L640.6,66.6 L640.9,69.6 L641.2,70.6 L641.5,72.0 L641.8,69.1 L642.1,68.9 L642.4,69.1 L642.7,65.1 L643.0,64.6 L643.3,61.3 L643.6,59.7 L643.9,59.2 L644.2,57.7 L644.5,54.3 L645.5,41.1 L645.8,37.8 L646.1,35.8 L646.4,35.2 L646.7,37.1 L647.1,39.7 L647.4,42.6 L647.7,45.6 L648.1,47.7 L648.4,51.4 L648.7,49.5 L649.0,47.7 L649.3,48.5 L649.6,52.0 L650.0,53.9 L650.3,55.8 L650.6,54.8 L650.9,60.7 L651.2,57.1 L651.5,59.9 L651.8,61.7 L652.1,63.4 L652.4,61.3 L652.7,59.9 L653.0,57.2 L653.3,56.5 L653.6,54.4 L653.9,56.4 L654.2,53.0 L654.5,53.1 L654.8,54.3 L655.1,53.0 L655.4,50.3 L655.6,51.6 L655.9,53.0 L656.2,50.7 L656.5,50.5 L656.9,48.2 L657.2,47.0 L657.5,48.7 L657.8,48.6 L658.1,47.8 L658.4,50.7 L658.7,50.2 L659.0,48.1 L659.3,48.9 L659.6,48.8 L659.9,45.5 L660.2,43.9 L660.5,43.6 L660.8,43.4 L661.1,40.3 L661.4,39.6 L661.7,38.7 L662.0,42.0 L662.2,43.5 L662.5,43.5 L662.8,42.6 L663.1,42.7 L663.4,42.5 L663.7,40.5 L664.0,39.2 L664.3,37.4 L664.6,37.6 L664.9,37.2 L665.2,39.4 L665.5,36.9 L665.8,39.6 L666.1,38.3 L666.4,39.4 L666.6,38.2 L666.9,36.8 L667.2,35.2 L667.5,33.1 L667.8,33.3 L668.1,32.8 L668.4,33.0 L668.7,31.6 L669.0,30.5 L669.3,31.4 L669.6,32.2 L669.9,27.4 L670.2,28.6 L670.5,30.1 L670.8,31.4 L671.0,29.8 L671.3,30.9 L671.6,31.6 L671.9,33.1 L672.2,26.7 L672.5,28.3 L672.8,25.0 L673.1,25.7 L673.4,26.4 L673.7,26.4 L674.0,23.2 L674.3,19.9 L674.6,21.3 L674.9,21.3 L675.2,20.6 L675.4,21.2 L675.7,19.6 L676.0,19.1 L676.3,20.3 L676.6,21.8 L676.9,20.5 L677.2,20.4 L677.5,21.3 L677.8,22.6 L678.1,17.3 L678.4,18.8 L678.7,16.0 L679.0,15.4 L679.3,16.4 L679.6,12.4 L679.8,16.8 L680.1,12.8 L680.4,13.2 L680.7,9.5 L681.0,9.6 L681.3,9.1 L681.6,5.8 L681.9,7.3" fill="none" stroke="#7090cd" stroke-width="2.5" stroke-linejoin="round" stroke-linecap="round" clip-path="url(#cb)"/>
<path d="M49.4,464.0 L50.7,461.8 L52.0,460.0 L53.0,458.8 L54.0,458.0 L54.7,456.7 L55.4,454.4 L56.6,459.0 L57.8,459.3 L59.0,460.4 L60.0,459.5 L61.0,459.2 L62.0,459.6 L63.0,459.9 L64.0,459.0 L65.0,458.1 L66.0,455.0 L67.0,453.4 L68.0,450.9 L69.0,450.0 L70.0,448.8 L71.0,446.0 L72.0,444.4 L73.0,442.6 L74.0,442.0 L75.0,440.2 L76.0,440.4 L77.0,442.1 L78.0,442.4 L79.0,443.2 L80.0,442.7 L81.0,442.4 L82.0,441.5 L83.0,441.0 L84.0,440.0 L85.0,438.1 L86.0,438.8 L87.0,436.4 L88.0,435.3 L89.0,435.4 L90.0,435.1 L91.0,433.6 L92.0,433.6 L93.0,431.9 L94.0,430.7 L95.0,430.4 L96.0,429.7 L97.0,427.7 L98.0,428.7 L99.0,427.0 L100.0,425.9 L101.0,426.4 L102.0,424.1 L103.0,424.0 L104.0,422.9 L105.0,421.9 L106.0,421.6 L107.0,421.0 L108.0,419.4 L109.0,418.2 L110.0,419.3 L111.0,418.0 L112.0,417.0 L113.0,416.4 L114.0,416.6 L115.0,415.9 L116.0,416.2 L117.0,416.0 L118.0,416.0 L119.0,415.9 L120.0,415.4 L121.0,414.1 L122.0,414.0 L123.0,414.7 L124.0,414.1 L125.0,411.6 L126.0,412.4 L127.0,413.4 L128.0,413.8 L129.0,413.6 L130.0,413.0 L131.0,411.6 L132.0,412.9 L133.0,411.8 L134.0,411.0 L135.0,408.7 L136.0,407.7 L137.0,408.0 L138.0,406.2 L139.0,402.0 L140.0,392.0 L141.0,382.4 L141.7,382.8 L142.4,382.4 L143.4,394.0 L144.6,403.0 L145.8,404.7 L147.0,407.6 L148.0,406.4 L149.0,406.3 L150.0,407.0 L151.0,406.5 L152.0,408.0 L153.0,407.1 L154.0,407.6 L155.0,406.8 L156.0,408.9 L157.0,408.0 L158.2,409.5 L159.4,409.4 L160.6,407.7 L161.8,408.8 L163.0,407.0 L164.0,407.2 L165.0,407.5 L166.0,407.1 L167.0,406.6 L168.0,407.4 L169.0,406.8 L170.0,406.7 L171.0,405.6 L172.0,404.7 L173.0,405.8 L174.0,405.2 L175.0,405.0 L176.0,405.8 L177.0,405.1 L178.0,406.4 L179.0,405.6 L180.0,405.8 L181.0,405.1 L182.0,405.8 L183.0,404.2 L184.0,403.0 L185.0,403.0 L186.0,402.9 L187.0,401.6 L188.0,402.6 L189.0,401.6 L190.0,402.4 L191.0,402.1 L192.0,401.8 L193.0,401.7 L194.0,402.2 L195.0,401.0 L196.0,399.6 L197.0,401.6 L198.0,400.6 L199.0,400.7 L200.0,400.4 L201.0,400.5 L202.0,400.7 L203.0,399.2 L204.0,399.1 L205.0,399.0 L206.0,399.7 L207.0,396.9 L208.0,397.9 L209.0,397.4 L210.0,396.6 L211.0,395.2 L212.0,396.5 L213.0,396.5 L214.0,396.9 L215.0,395.6 L216.0,394.8 L217.0,396.1 L218.0,394.4 L219.0,394.0 L220.0,393.6 L221.0,394.2 L222.0,391.6 L223.0,393.0 L224.0,392.3 L225.0,391.6 L226.0,390.8 L227.0,391.7 L228.0,390.1 L229.0,389.9 L230.0,389.6 L231.0,389.1 L232.0,389.3 L233.0,387.3 L234.0,387.4 L235.0,387.0 L236.0,386.3 L237.0,386.1 L238.0,386.3 L239.0,384.4 L240.0,384.4 L241.0,384.7 L242.0,383.0 L243.0,382.7 L244.0,381.6 L245.0,381.6 L246.0,381.2 L247.0,382.0 L248.0,380.8 L249.0,380.8 L250.0,379.6 L251.0,378.6 L252.0,378.1 L253.0,377.5 L254.0,377.7 L255.0,377.0 L256.0,376.8 L257.0,376.5 L258.0,374.0 L259.0,375.2 L260.0,374.0 L261.0,374.0 L262.0,372.1 L263.0,369.8 L264.0,369.5 L265.0,369.0 L266.0,367.3 L267.0,367.4 L268.0,368.9 L269.0,367.7 L270.0,367.0 L271.0,366.5 L272.0,365.9 L273.0,365.3 L274.0,363.6 L275.0,362.4 L276.0,362.0 L277.0,361.4 L278.0,360.9 L279.0,359.9 L280.0,359.0 L281.0,358.2 L282.0,355.8 L283.0,355.7 L284.0,354.0 L285.0,353.3 L286.0,353.5 L287.0,351.2 L288.0,351.6 L289.0,349.3 L290.0,347.4 L291.0,347.8 L292.0,345.6 L293.0,346.0 L294.0,344.7 L295.0,343.3 L296.0,343.0 L297.0,342.0 L298.0,339.3 L299.0,338.4 L300.0,336.0 L301.1,333.0 L302.3,329.7 L303.5,327.9 L304.6,326.9 L305.8,326.2 L307.0,323.9 L308.1,321.6 L309.3,320.0 L310.5,316.9 L311.6,314.6 L312.8,311.3 L314.1,308.1 L315.4,302.6 L316.7,296.2 L318.0,292.1 L319.4,287.5 L320.7,282.5 L322.0,279.6 L323.3,279.0 L324.1,273.6 L325.0,269.5 L325.9,266.8 L326.8,262.5 L327.6,259.6 L328.5,256.4" fill="none" stroke="#7090cd" stroke-width="3.7" stroke-linejoin="round" stroke-linecap="round" clip-path="url(#cc)"/>
<path d="M401.6,272.0 L402.0,273.0 L403.4,284.0 L405.0,304.0 L406.4,328.0 L407.6,342.0 L409.0,349.0 L410.4,346.0 L411.6,336.0 L412.6,334.0 L413.8,338.0 L415.0,348.0 L416.6,364.0 L418.0,380.0 L419.4,394.0 L420.6,399.0 L422.6,403.0 L424.6,406.0 L426.0,403.0 L427.4,406.0 L429.0,410.0 L430.6,411.5 L432.0,402.0 L433.0,396.0 L434.2,393.8 L435.4,398.0 L437.0,410.0 L439.0,424.0 L440.6,436.0 L442.0,444.0 L443.4,446.0 L445.0,443.6 L447.0,443.0 L449.0,445.0 L450.6,452.0 L452.6,455.0 L454.6,458.0 L456.6,463.0 L458.0,461.0 L460.0,466.0 L462.0,462.0 L464.0,460.0 L465.6,462.0 L467.4,458.0 L469.4,461.0 L471.0,465.6 L472.6,460.0 L474.0,452.0 L476.0,449.0 L477.4,445.0 L478.6,440.0 L480.0,444.0 L481.6,437.0 L483.4,427.0 L485.0,417.0 L486.6,402.0 L488.0,382.0 L489.2,356.0 L490.0,332.0 L491.0,308.0 L491.8,294.0 L492.4,290.0 L493.4,298.0 L494.4,312.0 L495.6,332.0 L496.2,356.0 L497.4,374.0 L499.0,390.0 L500.6,398.0 L501.2,399.6 L501.8,400.3 L502.4,401.9 L503.0,403.0 L503.5,402.3 L504.0,402.3 L504.5,401.2 L505.0,401.0 L506.0,410.0 L507.0,421.0 L507.5,421.1 L508.0,420.3 L508.5,420.5 L509.0,420.0 L510.0,429.0 L510.5,431.9 L510.9,435.2 L511.4,438.0 L511.9,436.1 L512.5,434.8 L513.0,433.0 L513.5,432.5 L513.9,432.5 L514.4,432.0 L514.9,433.0 L515.5,434.8 L516.0,436.0 L516.5,435.4 L517.0,435.7 L517.5,434.9 L518.0,435.0 L518.5,435.7 L519.0,435.9 L519.5,436.8 L520.0,437.0 L520.5,436.8 L521.0,437.3 L521.5,436.8 L522.0,437.0 L522.5,438.2 L523.0,438.7 L523.5,440.3 L524.0,441.0 L524.5,441.2 L525.0,442.3 L525.5,442.3 L526.0,443.0 L526.5,442.3 L527.0,440.7 L527.5,440.2 L528.0,439.0 L528.5,439.9 L529.0,441.7 L529.5,442.4 L530.0,444.0 L530.5,444.5 L531.0,444.4 L531.5,444.9 L532.0,445.0 L532.5,444.2 L533.0,444.3 L533.5,443.3 L534.0,443.0 L534.5,442.2 L535.0,440.7 L535.5,440.2 L536.0,439.0 L536.5,439.7 L536.9,441.2 L537.4,442.0 L537.9,444.2 L538.5,446.9 L539.0,449.0 L539.5,446.7 L540.1,445.2 L540.6,443.0 L541.2,442.5 L541.8,442.7 L542.4,441.9 L543.0,442.0 L543.5,442.0 L544.0,441.2 L544.5,441.5 L545.0,441.0 L545.6,440.0 L546.2,439.7 L546.8,438.4 L547.4,438.0 L548.0,436.2 L548.7,433.4 L549.3,431.5 L549.9,433.3 L550.4,434.3 L551.0,436.0 L551.5,436.7 L552.0,436.7 L552.5,437.8 L553.0,438.0 L553.5,438.2 L554.0,439.2 L554.5,439.2 L555.0,440.0 L555.5,440.9 L556.0,440.9 L556.5,442.1 L557.0,442.4 L557.5,440.5 L558.0,439.2 L558.5,436.9 L559.0,435.5 L559.5,436.1 L560.0,436.0 L560.5,436.9 L561.0,437.0 L561.5,435.0 L561.9,434.0 L562.4,432.0 L562.9,430.1 L563.4,428.6 L563.9,426.6 L564.4,425.0 L564.9,425.6 L565.5,425.4 L566.0,426.0 L566.5,427.3 L567.0,427.7 L567.5,429.1 L568.0,430.0 L568.5,430.7 L569.0,432.3 L569.5,432.7 L570.0,434.0 L570.5,432.8 L571.0,430.8 L571.5,429.8 L572.0,428.0 L572.5,427.9 L573.0,428.8 L573.5,428.4 L574.0,429.0 L574.5,429.5 L575.0,429.3 L575.5,430.0 L576.0,430.0 L576.5,431.4 L577.1,433.5 L577.6,435.0 L578.1,433.7 L578.6,433.3 L579.1,431.8 L579.6,431.0 L580.1,431.8 L580.6,431.7 L581.1,432.7 L581.6,433.0 L582.1,432.6 L582.6,432.7 L583.1,432.0 L583.6,432.0 L584.1,430.3 L584.5,427.8 L585.0,426.0 L585.5,427.2 L586.0,427.7 L586.5,429.3 L587.0,430.0 L587.5,431.0 L588.1,432.7 L588.6,433.6 L589.2,429.5 L589.8,426.1 L590.4,422.0 L590.9,421.3 L591.4,421.2 L591.9,420.2 L592.4,420.0 L592.9,420.7 L593.4,420.8 L593.9,421.7 L594.4,422.0 L594.9,420.0 L595.5,418.9 L596.0,417.0 L596.5,417.7 L597.1,419.2 L597.6,420.0 L598.1,417.5 L598.5,415.5 L599.0,413.0 L599.5,413.1 L600.0,413.8 L600.5,413.5 L601.0,414.0 L601.5,412.8 L601.9,411.1 L602.4,410.0 L602.9,409.3 L603.4,407.8 L603.9,407.3 L604.4,406.0 L604.9,406.8 L605.5,408.2 L606.0,409.0 L606.5,407.9 L607.0,407.1 L607.5,405.7 L608.0,405.0 L608.5,404.0 L609.1,402.1 L609.6,401.0 L610.1,399.8 L610.6,397.8 L611.1,396.8 L611.6,395.0 L612.1,395.4 L612.5,396.7 L613.0,397.0 L613.5,394.5 L613.9,392.6 L614.4,390.0 L614.9,390.4 L615.4,391.7 L615.9,392.1 L616.4,393.0 L616.9,390.8 L617.5,388.2 L618.0,386.0 L618.6,385.4 L619.2,384.3 L619.8,384.0 L620.4,383.0 L620.9,382.9 L621.4,383.6 L622.0,383.3 L622.5,384.1 L623.0,384.0 L623.5,382.8 L624.0,382.3 L624.5,380.8 L625.0,380.0 L625.5,379.2 L626.0,377.7 L626.5,377.2 L627.0,376.0 L627.5,374.5 L628.0,373.8 L628.5,371.9 L629.0,371.0 L629.5,370.8 L630.0,369.8 L630.5,369.7 L631.0,369.0 L631.5,368.9 L632.0,369.5 L632.5,369.0 L633.0,369.4 L633.5,368.7 L634.0,367.6 L634.5,367.0 L635.0,366.0 L635.5,364.1 L635.9,363.0 L636.4,361.0 L636.9,358.6 L637.4,356.8 L638.0,356.3 L638.7,355.1 L639.3,354.4 L639.9,351.9 L640.6,348.5 L641.2,346.0 L641.8,347.1 L642.3,347.3 L642.9,348.4 L643.5,347.7 L644.0,346.5 L644.6,346.1 L645.2,344.9 L645.8,344.9 L646.3,345.9 L646.9,346.0 L647.5,344.6 L648.1,343.9 L648.7,342.2 L649.3,341.3 L649.9,337.8 L650.6,334.0 L651.2,330.6 L651.8,328.7 L652.4,326.2 L653.0,324.5 L653.6,322.2 L654.2,321.7 L654.8,321.8 L655.4,321.1 L656.0,321.0 L656.6,319.3 L657.3,316.9 L657.9,315.1 L658.5,315.1 L659.0,314.3 L659.6,314.3 L660.2,313.9 L660.7,314.8 L661.2,316.3 L661.7,312.4 L662.1,308.2 L662.6,304.4 L663.2,304.4 L663.8,303.5 L664.4,303.7 L665.0,303.2 L665.6,302.4 L666.2,302.2 L666.8,301.1 L667.4,300.8 L668.0,299.9 L668.6,298.1 L669.2,297.4 L669.8,296.0 L670.3,294.2 L670.9,293.2 L671.4,291.3 L672.0,287.0 L672.6,283.0 L673.2,283.5 L673.8,283.4 L674.4,284.0 L675.0,284.1 L675.6,282.8 L676.3,282.1 L676.9,280.6 L677.5,277.9 L678.0,276.0 L678.6,273.4 L679.1,271.5 L679.7,270.5 L680.2,268.7 L680.8,267.3 L681.5,266.5 L682.1,265.1" fill="none" stroke="#7090cd" stroke-width="3.3" stroke-linejoin="round" stroke-linecap="round" clip-path="url(#cd)"/>
</svg></body></html>
